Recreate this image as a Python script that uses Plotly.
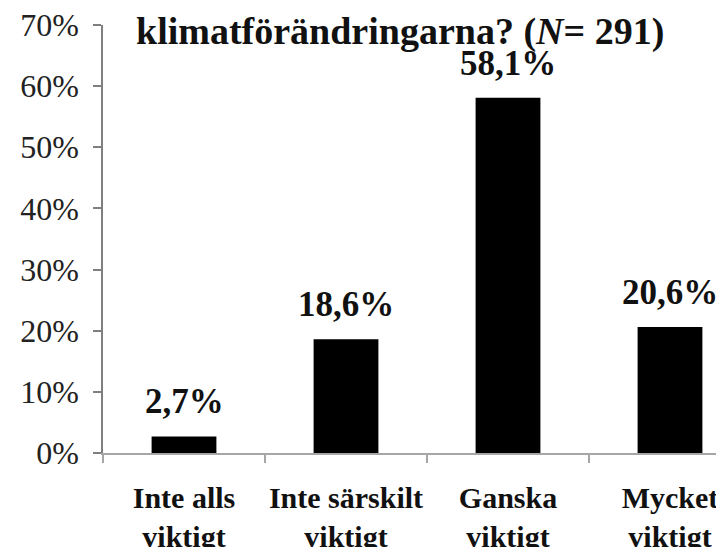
import plotly.graph_objects as go

# data
categories = ["Inte alls<br>viktigt", "Inte särskilt<br>viktigt", "Ganska<br>viktigt", "Mycket<br>viktigt"]
values = [2.7, 18.6, 58.1, 20.6]
y_ticks = [0, 10, 20, 30, 40, 50, 60, 70]
title_text = "hänger samman med<br>klimatförändringarna? (<i>N</i>= 291)"

labels = [f"{v:.1f}".replace(".", ",") + "%" for v in values]
y_tick_text = [f"{t}%" for t in y_ticks]

SERIF = "Liberation Serif"
# the page body adds an 8px offset, margins are chosen to compensate
L, T, PLOT_W, PLOT_H = 95, 17, 629, 428
CAT_W = 162  # pixels per category in the original

fig = go.Figure()
fig.add_trace(go.Bar(
    x=categories,
    y=values,
    width=0.4,
    marker=dict(color="black", line=dict(width=0)),
    showlegend=False,
    hoverinfo="skip",
))

# value labels sit a bit higher above the bars than plotly's own bar text
for cat, val, lab in zip(categories, values, labels):
    fig.add_annotation(
        x=cat, y=val, text=lab, showarrow=False,
        yanchor="bottom", yshift=13,
        font=dict(family=SERIF, size=35, color="#111", weight="bold"),
    )

# title is partly cut off at the top in the original, so place it by hand
fig.add_annotation(
    text=title_text, showarrow=False,
    xref="paper", yref="paper",
    x=(392 - L) / PLOT_W, xanchor="center",
    y=1 + (T - 47) / PLOT_H, yanchor="bottom",
    font=dict(family=SERIF, size=38, color="#111", weight="bold"),
)

fig.update_layout(
    width=724,
    height=547,
    margin=dict(l=L, r=0, t=T, b=547 - T - PLOT_H),
    plot_bgcolor="white",
    paper_bgcolor="white",
    xaxis=dict(
        type="category",
        range=[-0.5, -0.5 + PLOT_W / CAT_W],
        automargin=False,
        showline=True, linecolor="#a6a6a6", linewidth=1.5,
        ticks="outside", ticklen=8, tickcolor="#a6a6a6", tickwidth=1.5,
        tickson="boundaries",
        tickangle=0,
        ticklabelstandoff=17,
        ticklabeloverflow="allow",
        tickfont=dict(family=SERIF, size=30, color="#111", weight="bold"),
        showgrid=False, zeroline=False,
    ),
    yaxis=dict(
        range=[0, 70],
        automargin=False,
        tickvals=y_ticks,
        ticktext=y_tick_text,
        showline=True, linecolor="#7f7f7f", linewidth=1.5,
        ticks="outside", ticklen=8, tickcolor="#7f7f7f", tickwidth=1.5,
        ticklabelstandoff=8,
        ticklabeloverflow="allow",
        tickfont=dict(family=SERIF, size=32, color="#222"),
        showgrid=False, zeroline=False,
    ),
)

fig.write_html("out.html")
